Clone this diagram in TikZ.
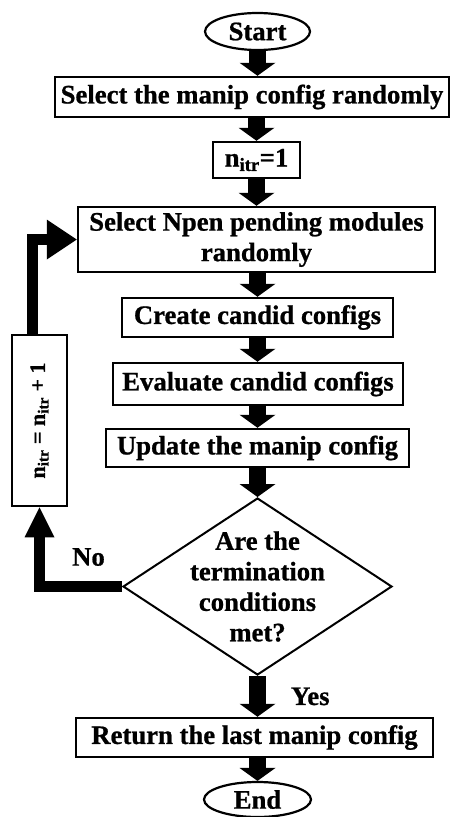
\documentclass[tikz,border=0pt]{standalone}
\usepackage{fontspec}
\setmainfont{Liberation Serif}[BoldFeatures={FakeBold=0.8}]
\usetikzlibrary{shapes.geometric,arrows.meta,calc}

\begin{document}
\begin{tikzpicture}[x=1pt, y=1pt,
  font=\fontsize{26.7}{30.5}\selectfont\bfseries,
  box/.style={draw, line width=2.5pt, inner sep=0pt, align=center},
  term/.style={ellipse, draw, line width=2.2pt, inner sep=0pt},
  flow/.style={line width=17pt, -{Triangle[width=36pt, length=13pt, line width=0pt]}},
  back/.style={line width=11pt, line join=miter}]
  % page frame, 450 x 817
  \useasboundingbox (0,0) rectangle (450,-817);

  % Terminals
  \node[term, minimum width=105pt, minimum height=37pt] (start) at (257.5,-31.5) {Start};
  \node[term, minimum width=107pt, minimum height=35pt] (end) at (257.5,-799.5) {End};

  % Process boxes
  \node[box, minimum width=394pt, minimum height=40pt] (sel1) at (252,-97) {Select the manip config randomly};
  \node[box, minimum width=87pt, minimum height=36pt] (init) at (256.5,-160) {n\textsubscript{itr}=1};
  \node[box, minimum width=357pt, minimum height=65pt] (sel2) at (256.5,-239.5) {Select Npen pending modules\\randomly};
  \node[box, minimum width=271pt, minimum height=39pt] (cand) at (257.5,-317.5) {Create candid configs};
  \node[box, minimum width=290pt, minimum height=42pt] (eval) at (258,-384) {Evaluate candid configs};
  \node[box, minimum width=303pt, minimum height=38pt] (upd) at (257.5,-448) {Update the manip config};
  \node[box, minimum width=357pt, minimum height=39pt] (ret) at (254.5,-737.5) {Return the last manip config};

  % Decision
  \node[diamond, draw, line width=2pt, inner sep=0pt, minimum width=269pt, minimum height=177pt,
    label={[align=center]center:Are the\\termination\\conditions\\met?}] (cond) at (257.5,-586.5) {};

  % Counter update (rotated)
  \node[box, rotate=90, minimum width=171pt, minimum height=55pt, font=\fontsize{22}{26}\selectfont\bfseries]
    (inc) at (39.5,-420.5) {n\textsubscript{itr} = n\textsubscript{itr} + 1};

  % Main flow
  \draw[flow] (start.south) -- (start.south |- sel1.north);
  \draw[flow] (init.north |- sel1.south) -- (init.north);
  \draw[flow] (init.south) -- (init.south |- sel2.north);
  \draw[flow] (cand.north |- sel2.south) -- (cand.north);
  \draw[flow] (cand.south) -- (cand.south |- eval.north);
  \draw[flow] (upd.north |- eval.south) -- (upd.north);
  \draw[flow] (upd.south) -- (cond.north);
  \draw[flow] (cond.south) -- (cond.south |- ret.north)
    node[midway, anchor=west, inner sep=0pt, xshift=25pt] (yes) {Yes};
  \draw[flow] (end.north |- ret.south) -- (end.north);

  % Loop back
  \draw[back, -{Triangle[width=30pt, length=30pt, line width=0pt]}] (cond.west) -| (inc.west);
  \node (no) at (88.5,-557) {No};
  \draw[back, -{Triangle[width=40pt, length=30pt, line width=0pt]}] ([xshift=-7pt]inc.east) |- (sel2.west);
\end{tikzpicture}
\end{document}
